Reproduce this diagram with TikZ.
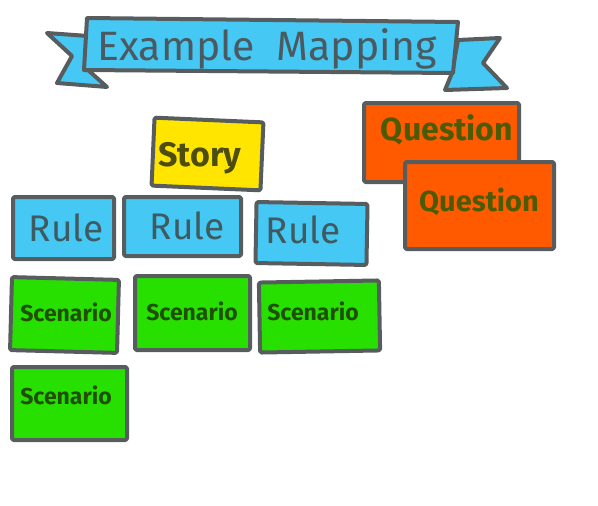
\documentclass[tikz,border=0pt]{standalone}
\usepackage{fontspec}
\setmainfont{Fira Sans}
\definecolor{edge}{HTML}{575C5E}
\definecolor{bluefill}{HTML}{45C8F3}
\definecolor{titletext}{HTML}{4A5A60}
\definecolor{yellowfill}{HTML}{FFE500}
\definecolor{orangefill}{HTML}{FF5A00}
\definecolor{greenfill}{HTML}{28E000}
\definecolor{scentext}{HTML}{1E5000}
\definecolor{questtext}{HTML}{4E5A00}
\definecolor{storytext}{HTML}{4D4D10}
\definecolor{ruletext}{HTML}{3F5A60}
\tikzset{
  card/.style={draw=edge, line width=4pt, rounded corners=1.5pt, line join=round, inner sep=0pt},
  storycard/.style={card, fill=yellowfill},
  rulecard/.style={card, fill=bluefill},
  questcard/.style={card, fill=orangefill},
  scencard/.style={card, fill=greenfill},
  storylbl/.style={text=storytext, font=\fontsize{34}{34}\selectfont\bfseries, inner sep=0pt},
  rulelbl/.style={text=ruletext, font=\fontsize{37}{37}\selectfont, inner sep=0pt},
  questlbl/.style={text=questtext, font=\fontsize{32}{32}\selectfont\bfseries, inner sep=0pt},
  scenlbl/.style={text=scentext, font=\fontsize{23}{23}\selectfont\bfseries, inner sep=0pt},
  bannerpart/.style={draw=edge, fill=bluefill, line width=4pt, line join=round, line cap=round},
}
\begin{document}
\begin{tikzpicture}[x=1pt,y=-1pt]
\useasboundingbox (0,0) rectangle (598,506);
% banner
\filldraw[bannerpart] (47,33) -- (88,36) -- (88,70) -- (107,87) -- (57,83) -- (72,56) -- cycle;
\filldraw[bannerpart] (458,40) -- (500,38) -- (483,63) -- (507,88) -- (445,90) -- (452,73) -- cycle;
\filldraw[bannerpart] (87,18) -- (458,22) -- (453,73) -- (84,70) -- cycle;
\node[text=titletext, font=\fontsize{41}{41}\selectfont, inner sep=0pt] (title) at (267,49) {Example\ \ Mapping};
% story
\node[storycard, minimum width=109pt, minimum height=68pt, rotate=-2.5] (story) at (207.5,154) {};
\node[storylbl] (storyt) at (200,158) {Story};
% questions
\node[questcard, minimum width=155pt, minimum height=79pt] (q1) at (441.5,142.5) {};
\node[questlbl] (q1t) at (447,130) {Question};
\node[questcard, minimum width=149pt, minimum height=87pt] (q2) at (479.5,205.5) {};
\node[questlbl, font=\fontsize{29}{29}\selectfont\bfseries] (q2t) at (479,202) {Question};
% rules
\node[rulecard, minimum width=101pt, minimum height=62pt] (r1) at (63.5,228) {};
\node[rulelbl] (r1t) at (66,228) {Rule};
\node[rulecard, minimum width=117pt, minimum height=59pt] (r2) at (182.5,226.5) {};
\node[rulelbl] (r2t) at (187,226) {Rule};
\node[rulecard, minimum width=111pt, minimum height=61pt, rotate=-1] (r3) at (311.5,233.5) {};
\node[rulelbl] (r3t) at (303,230) {Rule};
% scenarios
\node[scencard, minimum width=107pt, minimum height=73pt, rotate=-1.5] (s1) at (64.5,315) {};
\node[scenlbl] (s1t) at (66,312) {Scenario};
\node[scencard, minimum width=115pt, minimum height=74pt] (s2) at (192.5,313) {};
\node[scenlbl] (s2t) at (192,311) {Scenario};
\node[scencard, minimum width=120pt, minimum height=70pt, rotate=1] (s3) at (319.5,316.5) {};
\node[scenlbl] (s3t) at (313,311) {Scenario};
\node[scencard, minimum width=115pt, minimum height=73pt] (s4) at (69.5,403.5) {};
\node[scenlbl] (s4t) at (66,395) {Scenario};
\end{tikzpicture}
\end{document}
